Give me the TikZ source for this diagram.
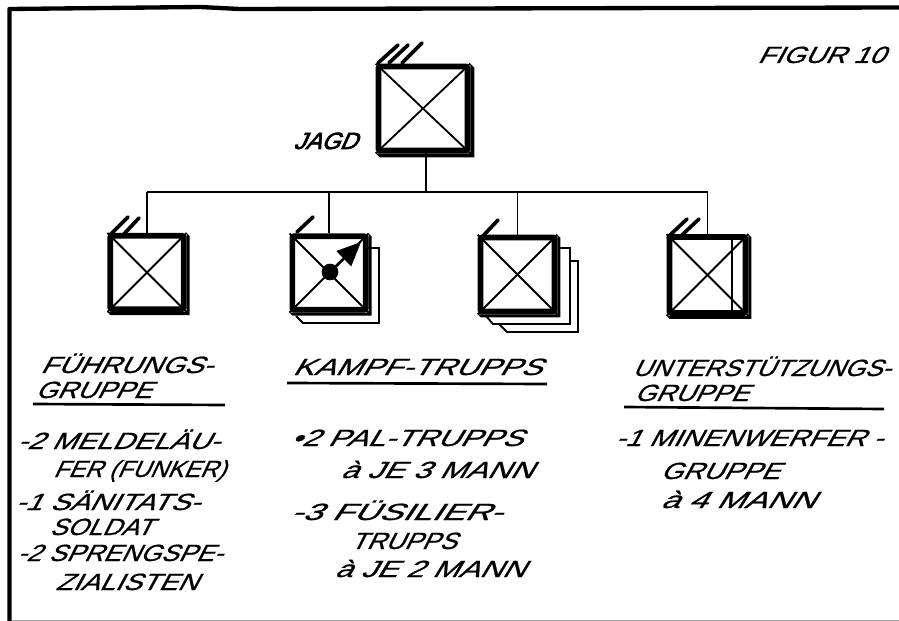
\documentclass[tikz,border=0pt]{standalone}
\usepackage{fontspec}
\usepackage{xcolor}
\usepackage{tikz}
\usetikzlibrary{calc, arrows.meta}
\newfontfamily\handfont[FakeSlant=0.45,FakeBold=0.7]{Liberation Sans}
\newfontfamily\handbold[FakeSlant=0.45,FakeBold=3]{Liberation Sans}

\begin{document}
\begin{tikzpicture}[x=0.03cm, y=-0.03cm,
    thinline/.style={draw=black, line width=0.055cm},
    heading/.style={draw=black, line width=0.08cm},
    frameline/.style={draw=black, line width=0.13cm, line join=round},
    rankbar/.style={draw=black, line width=0.11cm, line cap=round},
    unitbox/.style={draw=black, fill=white, line width=0.17cm, rounded corners=0.05cm, inner sep=0pt},
    hand/.style={anchor=base west, inner sep=0pt, font=\handfont\fontsize{20}{23}\selectfont}]
  \useasboundingbox (0,0) rectangle (899,621);

  % Outer frame
  \draw[frameline] (9.5,621) -- (9.5,9) -- (200,7) -- (240,9) -- (899,7.5);
  \draw[draw=black!35, line width=0.03cm] (12,620.5) -- (899,620.5);

  % Sheets behind the units
  \draw[thinline] (365,248) -- (379,248) -- (379,323) -- (303,323) -- (296,316);
  \draw[thinline] (560,248) -- (570,248) -- (570,324) -- (493,324) -- (486,316);
  \draw[thinline] (570,261) -- (578,261) -- (578,332) -- (507,332) -- (499,324);

  % Commander unit
  \node[unitbox, minimum width=2.67cm, minimum height=2.52cm] (jagd) at (423,108.5) {};
  \fill (jagd.north east) -- ++(4,4) -- ($(jagd.south east)+(4,4)$) -- ($(jagd.south west)+(4,4)$) -- (jagd.south west) -- (jagd.south east) -- cycle;
  \draw[thinline] (jagd.north west) -- (jagd.south east);
  \draw[thinline] (jagd.south west) -- (jagd.north east);

  % Sub units
  \foreach \unitname/\ux/\uy/\usize in {fuehrung/147/272.5/2.2, kampf/329/273/2.2, reserve/517.5/274.5/2.22, stuetz/707.5/275/2.28} {
    \node[unitbox, minimum size=\usize cm] (\unitname) at (\ux,\uy) {};
    \fill (\unitname.north east) -- ++(3,3) -- ($(\unitname.south east)+(3,3)$) -- ($(\unitname.south west)+(3,3)$) -- (\unitname.south west) -- (\unitname.south east) -- cycle;
    \draw[thinline] (\unitname.north west) -- (\unitname.south east);
    \draw[thinline] (\unitname.south west) -- (\unitname.north east);
  }

  % Inner line of the last unit
  \draw[thinline] (732,238) -- (732,312);

  % Weapon sign
  \node[circle, fill=black, inner sep=0pt, minimum size=0.5cm] (zentrum) at (330,272) {};
  \coordinate (spitze) at (361,242);
  \draw[line width=0.08cm, -{Triangle[length=0.72cm, width=0.62cm]}] (zentrum) -- (spitze);

  % Rank bars
  \foreach \xa/\ya/\xb/\yb in {378/63/398/45, 389/63/408/45, 402/63/422/43,
      110/235/128/217, 123/235/139/218, 297/232/313/217, 482/237/498/220,
      668/237/687/219, 682/235/699/219} {
    \draw[rankbar] (\xa,\ya) -- (\xb,\yb);
  }

  % Connecting lines
  \coordinate (bus) at (426,192);
  \draw[thinline] (bus) -- (bus |- jagd.south);
  \draw[thinline] (fuehrung.north |- bus) -- (stuetz.north |- bus);
  \foreach \unitname in {fuehrung, kampf, reserve, stuetz} {
    \draw[thinline] (\unitname.north) -- (\unitname.north |- bus);
  }

  % Heading rules
  \draw[heading] (33,404) -- (225,405);
  \draw[heading] (287,383) -- (547,384);
  \draw[heading] (624,407) -- (884,409);

  % Labels
  \node[hand] (figur) at (757,63) {\resizebox{3.81cm}{\height}{FIGUR 10}};
  \node[anchor=base west, inner sep=0pt, font=\handbold\fontsize{20}{23}\selectfont] (jagdtext) at (293,149) {\resizebox{1.9cm}{\height}{JAGD}};
  \foreach \textname/\tx/\ty/\tw/\ttext in {
      fkopfa/40/373/5.16/FÜHRUNGS-, fkopfb/35/398/3.48/GRUPPE,
      fa/17/449/6.06/-2 MELDELÄU-, fb/53/477/5.16/FER (FUNKER), fc/15/510/5.52/-1 SÄNITATS-,
      fd/49/535/3.09/SOLDAT, fe/17/561/6.15/-2 SPRENGSPE-, ff/55/590/4.26/ZIALISTEN,
      kkopf/292/375/7.47/KAMPF-TRUPPS,
      ka/290/446/6.96/•2 PAL-TRUPPS, kb/340/478/5.76/à JE 3 MANN, kc/290/520/6.33/-3 FÜSILIER-,
      kd/350/549/3.18/TRUPPS, ke/334/577/5.7/à JE 2 MANN,
      ukopfa/632/376/7.74/UNTERSTÜTZUNGS-, ukopfb/634/401/3.42/GRUPPE,
      ua/615/446/8.01/-1 MINENWERFER -, ub/660/479/3.57/GRUPPE, uc/660/508/4.62/à 4 MANN} {
    \node[hand] (\textname) at (\tx,\ty) {\resizebox{\tw cm}{\height}{\ttext}};
  }
\end{tikzpicture}
\end{document}
